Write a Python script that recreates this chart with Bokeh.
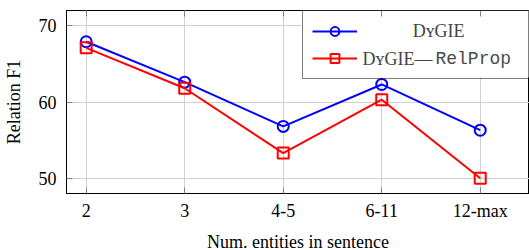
from bokeh.plotting import figure
from bokeh.models import (FixedTicker, Legend, LegendItem, Label, LinearAxis, Range1d,
                          BoxAnnotation)
from bokeh.embed import file_html
from bokeh.resources import INLINE

categories = ["2", "3", "4-5", "6-11", "12-max"]
dygie = [67.9, 62.6, 56.8, 62.3, 56.3]
relprop = [67.1, 61.8, 53.3, 60.3, 50.0]
y_ticks = [50, 60, 70]

SERIF = "Liberation Serif"
MONO = "Liberation Mono"
FS = "18px"

xs = list(range(len(categories)))

p = figure(frame_width=463, frame_height=183, output_backend="svg",
           toolbar_location=None, x_range=Range1d(-0.2, 4.50),
           y_range=Range1d(48, 72), min_border_left=59, min_border_top=10,
           min_border_right=0, min_border_bottom=0)
p.background_fill_color = "white"
p.border_fill_color = "white"
p.outline_line_color = "black"
p.outline_line_width = 1

for ax in (p.xaxis[0], p.yaxis[0]):
    ax.major_tick_in = 6
    ax.major_tick_out = 0
    ax.minor_tick_line_color = None
    ax.major_tick_line_color = "#808080"
    ax.axis_line_color = "black"
    ax.major_label_text_font = SERIF
    ax.major_label_text_font_size = FS
    ax.major_label_text_color = "black"
    ax.axis_label_text_font = SERIF
    ax.axis_label_text_font_size = FS
    ax.axis_label_text_font_style = "normal"
    ax.axis_label_text_color = "black"

p.xaxis.ticker = FixedTicker(ticks=xs)
p.xaxis.major_label_overrides = {i: c for i, c in enumerate(categories)}
p.xaxis.axis_label = "Num. entities in sentence"
p.xaxis.major_label_standoff = 7
p.xaxis.axis_label_standoff = 8
p.yaxis.ticker = FixedTicker(ticks=y_ticks)
p.yaxis.axis_label = "Relation F1"
p.yaxis.major_label_standoff = 10
p.yaxis.axis_label_standoff = 12

top = LinearAxis(ticker=FixedTicker(ticks=xs), major_tick_in=6, major_tick_out=0,
                 major_tick_line_color="#808080", minor_tick_line_color=None,
                 axis_line_color=None, major_label_standoff=0,
                 major_label_overrides={i: "" for i in xs})
p.add_layout(top, "above")

p.xgrid.ticker = FixedTicker(ticks=xs)
p.ygrid.ticker = FixedTicker(ticks=y_ticks)
p.xgrid.grid_line_color = "#d0d0d0"
p.ygrid.grid_line_color = "#d0d0d0"

# white backing under the (transparent) legend, covering the grid
p.add_layout(BoxAnnotation(left=2.186, right=4.50, top=72, bottom=63.2,
                           fill_color="white", fill_alpha=1.0, line_color=None,
                           level="underlay"))

l1 = p.line(xs, dygie, line_color="blue", line_width=2)
m1 = p.scatter(xs, dygie, marker="circle", size=11, line_color="blue",
               line_width=2, fill_color=None)
l2 = p.line(xs, relprop, line_color="red", line_width=2)
m2 = p.scatter(xs, relprop, marker="square", size=11, line_color="red",
               line_width=2, fill_color=None)

legend = Legend(items=[LegendItem(label=" ", renderers=[l1, m1]),
                       LegendItem(label=" ", renderers=[l2, m2])],
                location="top_right", margin=0, padding=9, spacing=5,
                glyph_width=45, glyph_height=22, label_height=22,
                label_width=155, label_standoff=7,
                border_line_color="black", border_line_width=1,
                background_fill_alpha=0.0)
p.add_layout(legend)

# legend texts (mixed fonts), placed in data units inside the legend box
p.add_layout(Label(x=3.577, y=69.25, text="DʏGIE", text_font=SERIF,
                   text_font_size=FS, text_align="center", text_baseline="middle"))
p.add_layout(Label(x=2.805, y=65.7, text="DʏGIE—", text_font=SERIF,
                   text_font_size=FS, text_align="left", text_baseline="middle"))
p.add_layout(Label(x=3.545, y=65.7, text="RelProp", text_font=MONO,
                   text_font_size=FS, text_align="left", text_baseline="middle",
                   text_color="#4a4a4a"))

open("out.html", "w").write(file_html(p, INLINE))
